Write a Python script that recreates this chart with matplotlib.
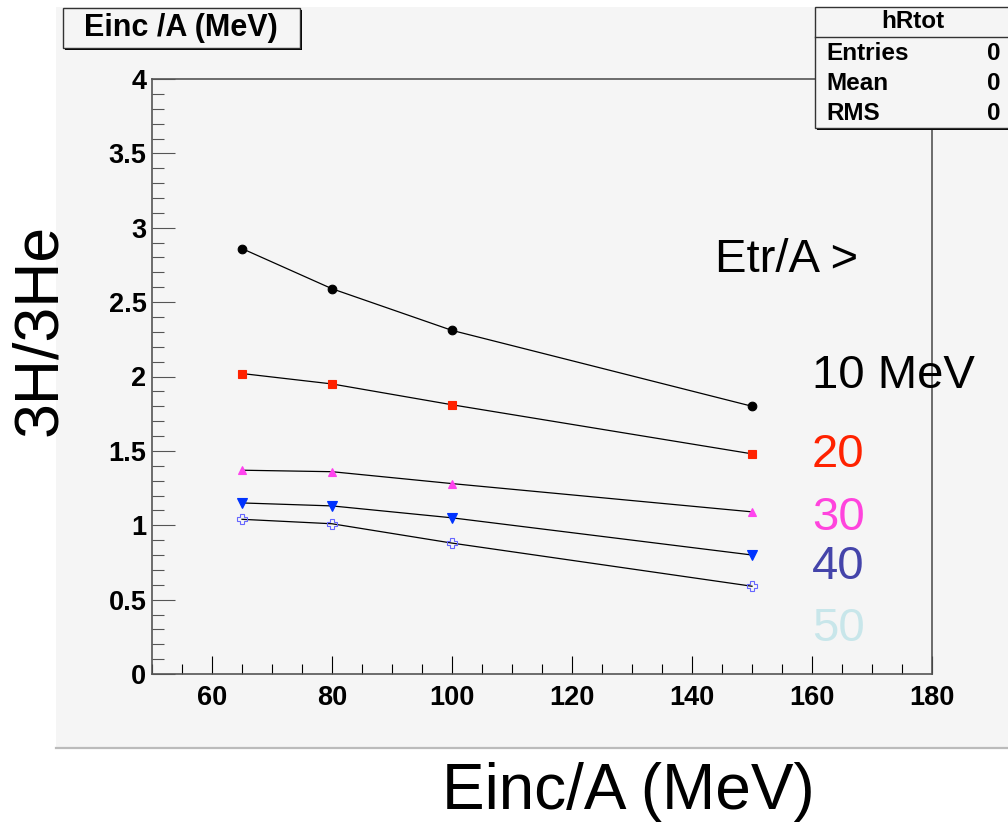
import matplotlib.pyplot as plt
from matplotlib.patches import Rectangle
from matplotlib.lines import Line2D
from matplotlib.ticker import MultipleLocator

plt.rcParams['font.family'] = ['Liberation Sans', 'DejaVu Sans']

# incident energy per nucleon (MeV)
einc = [65, 80, 100, 150]

# 3H/3He ratio for each transverse-energy threshold
r_10 = [2.86, 2.59, 2.31, 1.80]
r_20 = [2.02, 1.95, 1.81, 1.48]
r_30 = [1.37, 1.36, 1.28, 1.09]
r_40 = [1.15, 1.13, 1.05, 0.80]
r_50 = [1.04, 1.01, 0.88, 0.59]

thresholds = ['10 MeV', '20', '30', '40', '50']
label_y = [2.0, 1.47, 1.05, 0.72, 0.30]

W, H = 1008, 824


def fx(px):
    return px / W


def fy(py):
    return 1 - py / H


fig = plt.figure(figsize=(W / 100, H / 100), dpi=100)
fig.patch.set_facecolor('white')

# canvas pad
fig.patches.append(Rectangle((fx(56), fy(748)), fx(1008) - fx(56), fy(7) - fy(748),
                             transform=fig.transFigure, facecolor='#f5f5f5',
                             edgecolor='none', zorder=-2))
fig.lines.append(Line2D([fx(56), 1], [fy(748), fy(748)], transform=fig.transFigure,
                        color='#bbbbbb', lw=1.6, zorder=-1))

ax = fig.add_axes([fx(152), fy(674), fx(932) - fx(152), fy(79) - fy(674)])
ax.set_facecolor('#f5f5f5')

series = [
    (r_10, 'o', 'black', 'black', 6.2),
    (r_20, 's', '#ff2200', '#ff2200', 6),
    (r_30, '^', '#ff44ee', '#ff44ee', 6),
    (r_40, 'v', '#0033ff', '#0033ff', 6.5),
    (r_50, 'P', 'none', '#6666ff', 7.5),
]
for vals, m, fc, ec, ms in series:
    ax.plot(einc, vals, color='black', lw=0.9, zorder=2)
    ax.plot(einc, vals, ls='none', marker=m, markersize=ms, markerfacecolor=fc,
            markeredgecolor=ec, markeredgewidth=0.8, zorder=3)

ax.set_xlim(50, 180)
ax.set_ylim(0, 4)
ax.xaxis.set_minor_locator(MultipleLocator(5))
ax.yaxis.set_minor_locator(MultipleLocator(0.1))
ax.set_xticks([60, 80, 100, 120, 140, 160, 180])
ax.set_xticklabels(['60', '80', '100', '120', '140', '160', '180'])
ax.set_yticks([0, 0.5, 1, 1.5, 2, 2.5, 3, 3.5, 4])
ax.set_yticklabels(['0', '0.5', '1', '1.5', '2', '2.5', '3', '3.5', '4'])

ax.tick_params(axis='x', which='major', direction='in', length=13, width=0.8, pad=8,
               labelsize=19.5, color='black')
ax.tick_params(axis='x', which='minor', direction='in', length=7, width=0.8, color='black')
ax.tick_params(axis='y', which='major', direction='in', length=16.5, width=0.8, pad=4,
               labelsize=19.5, color='#555555')
ax.tick_params(axis='y', which='minor', direction='in', length=8.5, width=0.8, color='#555555')
for lab in ax.get_xticklabels() + ax.get_yticklabels():
    lab.set_fontweight('bold')
for s in ax.spines.values():
    s.set_color('#555555')
    s.set_linewidth(1.2)

# threshold labels
ax.text(143.8, 2.78, 'Etr/A >', fontsize=34, va='center', ha='left', color='black')
colors = ['black', '#ff2200', '#ff44dd', '#4444aa', '#c8e6ea']
for t, yv, c in zip(thresholds, label_y, colors):
    ax.text(160.0, yv, t, fontsize=34, va='center', ha='left', color=c, zorder=4)

# axis titles
fig.text(fx(40), fy(330), '3H/3He', fontsize=45, rotation=90, ha='center', va='center')
fig.text(fx(628), fy(792), 'Einc/A (MeV)', fontsize=46, ha='center', va='center')

# histogram title box
fig.patches.append(Rectangle((fx(65), fy(50)), fx(300) - fx(63), fy(8) - fy(48),
                             transform=fig.transFigure, facecolor='black',
                             edgecolor='none', zorder=5))
fig.patches.append(Rectangle((fx(63), fy(48)), fx(300) - fx(63), fy(8) - fy(48),
                             transform=fig.transFigure, facecolor='#f5f5f5',
                             edgecolor='#333333', lw=1.0, zorder=6))
fig.text(fx(181), fy(28), 'Einc /A (MeV)', fontsize=22, fontweight='bold',
         ha='center', va='center', zorder=7)

# statistics box
fig.patches.append(Rectangle((fx(817), fy(130)), fx(1010) - fx(817), fy(9) - fy(130),
                             transform=fig.transFigure, facecolor='black',
                             edgecolor='none', zorder=5))
fig.patches.append(Rectangle((fx(815), fy(128)), fx(1010) - fx(815), fy(7) - fy(128),
                             transform=fig.transFigure, facecolor='#f5f5f5',
                             edgecolor='#333333', lw=1.0, zorder=6))
fig.lines.append(Line2D([fx(815), 1], [fy(37), fy(37)], transform=fig.transFigure,
                        color='#333333', lw=1.0, zorder=7))
fig.text(fx(913), fy(22), 'hRtot', fontsize=17.5, fontweight='bold',
         ha='center', va='center', zorder=8)
stat_names = ['Entries', 'Mean', 'RMS']
stat_vals = ['0', '0', '0']
for i, (n, v) in enumerate(zip(stat_names, stat_vals)):
    yy = 53 + 30 * i
    fig.text(fx(826), fy(yy), n, fontsize=17.5, fontweight='bold',
             ha='left', va='center', zorder=8)
    fig.text(fx(1001), fy(yy), v, fontsize=17.5, fontweight='bold',
             ha='right', va='center', zorder=8)

fig.savefig('out.png', dpi=100)
